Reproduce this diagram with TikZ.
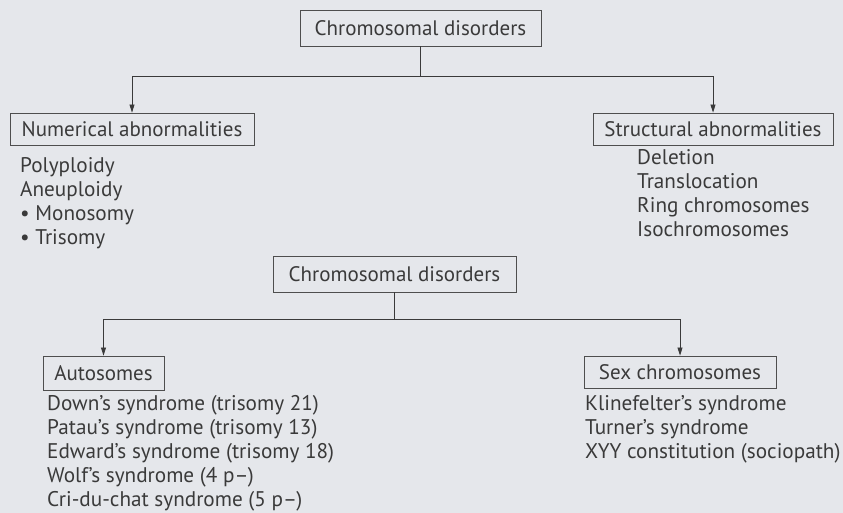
\documentclass[tikz,border=0pt]{standalone}
\usepackage{fontspec}
\setmainfont{PT Sans}
\usetikzlibrary{arrows.meta,shadows}
\definecolor{bg}{HTML}{E5E7EB}
\definecolor{ink}{HTML}{3A3A3A}
\begin{document}
\begin{tikzpicture}[x=1pt,y=1pt,
  box/.style={draw=ink!90, line width=0.8pt, fill=bg, inner sep=0pt, text=ink,
    font=\fontsize{21}{24}\selectfont,
    drop shadow={shadow xshift=1.2pt,shadow yshift=-1.5pt,fill=black!30}},
  item/.style={anchor=base west, inner sep=0pt, text=ink, font=\fontsize{21.2}{24}\selectfont},
  conn/.style={draw=ink, line width=0.8pt},
  arr/.style={conn, -{Triangle[length=8pt,width=5pt]}}]
\useasboundingbox[fill=bg] (0,0) rectangle (843,513);

% first tree
\node[box, minimum width=241pt, minimum height=36pt] (root1) at (420.5,485) {Chromosomal disorders};
\node[box, minimum width=244pt, minimum height=32pt] (num) at (132,384) {Numerical abnormalities};
\node[box, minimum width=240pt, minimum height=32pt] (str) at (713,384) {Structural abnormalities};
\coordinate (j1) at (root1.south |- 0,437);
\draw[conn] (root1.south) -- (j1);
\draw[arr] (j1) -| (num.north);
\draw[arr] (j1) -| (str.north);

\foreach \t [count=\i] in {Polyploidy, Aneuploidy, • Monosomy, • Trisomy}
  \node[item, name=nl\i] at (20, 340-24*\i+24) {\t};
\foreach \t [count=\i] in {Deletion, Translocation, Ring chromosomes, Isochromosomes}
  \node[item, name=sl\i] at (637, 348-24*\i+24) {\t};

% second tree
\node[box, minimum width=243pt, minimum height=36pt] (root2) at (394.5,239) {Chromosomal disorders};
\node[box, minimum width=121pt, minimum height=34pt] (aut) at (103.5,140) {Autosomes};
\node[box, minimum width=192pt, minimum height=32pt] (sex) at (680,141) {Sex chromosomes};
\coordinate (j2) at (root2.south |- 0,194);
\draw[conn] (root2.south) -- (j2);
\draw[arr] (j2) -| (aut.north);
\draw[arr] (j2) -| (sex.north);

\foreach \t [count=\i] in {Down’s syndrome (trisomy 21), Patau’s syndrome (trisomy 13), Edward’s syndrome (trisomy 18), Wolf’s syndrome (4 p–), Cri-du-chat syndrome (5 p–)}
  \node[item, name=al\i] at (47, 102-23.8*\i+23.8) {\t};
\foreach \t [count=\i] in {Klinefelter’s syndrome, Turner’s syndrome, XYY constitution (sociopath)}
  \node[item, name=xl\i] at (585, 102-23.8*\i+23.8) {\t};
\end{tikzpicture}
\end{document}
